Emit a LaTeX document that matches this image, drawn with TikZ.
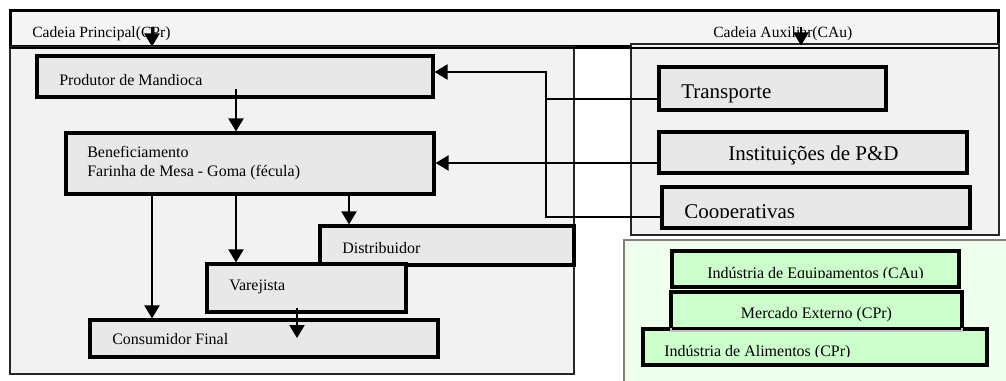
\documentclass[tikz,border=0pt]{standalone}
\usepackage{fontspec}
\setmainfont{Liberation Serif}
\usetikzlibrary{arrows.meta,fit}
\definecolor{boxgray}{HTML}{E8E8E8}
\definecolor{panelgray}{HTML}{F2F2F2}
\definecolor{hdrgray}{HTML}{F5F5F5}
\definecolor{greenbox}{HTML}{CCFFCC}
\definecolor{greenpanel}{HTML}{EEFFEE}
\begin{document}
\begin{tikzpicture}[x=0.75pt,y=-0.75pt,
  panel/.style={draw=black!85, line width=1.5pt, fill=panelgray, inner sep=0pt},
  stagebox/.style={draw=black, line width=2.4pt, fill=boxgray, inner sep=0pt},
  gbox/.style={draw=black, line width=2.4pt, fill=greenbox, inner sep=0pt},
  lbl/.style={anchor=base west, inner sep=0pt, font=\fontsize{12pt}{14pt}\selectfont},
  clbl/.style={anchor=base, inner sep=0pt, font=\fontsize{12pt}{14pt}\selectfont},
  biglbl/.style={anchor=base west, inner sep=0pt, font=\fontsize{15.75pt}{18pt}\selectfont},
  hdr/.style={anchor=base west, inner sep=0pt, font=\fontsize{11.7pt}{14pt}\selectfont},
  arr/.style={line width=1.5pt, -{Triangle[length=9.75pt,width=11.25pt]}},
  conn/.style={line width=1.5pt},
]
\useasboundingbox (0,0) rectangle (1006,381);
\fill[white] (0,0) rectangle (1006,381);

% green panel
\fill[greenpanel] (624,240) rectangle (1006,381);
\draw[gray, line width=0.9pt] (624,381) -- (624,240) -- (1006,240);
\coordinate (gp) at (624,240);

% header band
\node[panel, draw=black, line width=2.25pt, fill=hdrgray, fit={(10,11) (998,47)}] (hdr) {};
% main chain panel
\node[panel, fit={(10,47) (574,374)}] (cpr) {};
% auxiliary chain panel
\node[panel, fit={(631,44) (999,235)}] (cau) {};
\draw[line width=1.5pt] (hdr.south west) -- (hdr.south east);

\node[hdr] (tcpr) at (32,37.5) {Cadeia Principal(CPr)};
\node[hdr] (tcau) at (713,37.5) {Cadeia Auxiliar(CAu)};

% main chain boxes
\node[stagebox, fit={(37,56) (433,97)}] (prod) {};
\node[lbl] (tprod) at (59,86) {Produtor de Mandioca};
\node[stagebox, fit={(66,133) (434,194)}] (benef) {};
\node[lbl] (tben1) at (87,157) {Beneficiamento};
\node[lbl] (tben2) at (87,176.5) {Farinha de Mesa - Goma (fécula)};
\node[stagebox, fit={(320,226) (574,265)}] (dist) {};
\node[lbl] (tdist) at (342,253) {Distribuidor};
\node[stagebox, fit={(207,264) (406,312)}] (vare) {};
\node[lbl] (tvare) at (229,290) {Varejista};
\node[stagebox, fit={(90,320) (438,357)}] (cons) {};
\node[lbl] (tcons) at (112,344) {Consumidor Final};

% auxiliary boxes
\node[stagebox, fit={(659,67) (886,110)}] (transp) {};
\node[biglbl] (ttransp) at (681,99) {Transporte};
\node[stagebox, fit={(659,132) (967,173)}] (inst) {};
\node[biglbl] (tinst) at (728,161) {Instituições de P\&D};
\node[stagebox, fit={(662,187) (970,228)}] (coop) {};
\begin{scope}
  \clip (662,150) rectangle (970,217.5);
  \node[biglbl] (tcoop) at (684,218) {Cooperativas};
\end{scope}

% green boxes
\node[gbox, fit={(672,251) (959,287)}] (equip) {};
\begin{scope}
  \clip (672,240) rectangle (959,277.5);
  \node[clbl] (tequip) at (815.5,278) {Indústria de Equipamentos (CAu)};
\end{scope}
\node[gbox, fit={(671,292) (962,330)}] (merc) {};
\node[clbl] (tmerc) at (816.5,318) {Mercado Externo (CPr)};
\node[gbox, fit={(643,329) (987,365)}] (alim) {};
\draw[black!25, line width=1pt] (671,328) -- (671,331) -- (962,331) -- (962,328);
\begin{scope}
  \clip (643,320) rectangle (987,356);
  \node[lbl] (talim) at (664,356.5) {Indústria de Alimentos (CPr)};
\end{scope}

% coordinates for connector routing
\coordinate (x152) at (152,0);
\coordinate (x236) at (236,0);
\coordinate (x297) at (297,0);
\coordinate (x349) at (349,0);
\coordinate (x546) at (546,0);
\coordinate (y72) at (0,72);
\coordinate (y99) at (0,99);
\coordinate (y163) at (0,163);
\coordinate (y217) at (0,217);
\coordinate (ha) at (152,27);
\coordinate (hb) at (801,27);
\coordinate (hastop) at (152,46.5);
\coordinate (hbstop) at (801,45.5);
\coordinate (pstart) at (236,89);
\coordinate (vstart) at (297,308);
\coordinate (vend) at (297,338);

% header arrows
\draw[arr] (ha) -- (hastop);
\draw[arr] (hb) -- (hbstop);

% main chain flows
\draw[arr] (pstart) -- (benef.north -| x236);
\draw[arr] (benef.south -| x152) -- (cons.north -| x152);
\draw[arr] (benef.south -| x236) -- (vare.north -| x236);
\draw[arr] (benef.south -| x349) -- (dist.north -| x349);
\draw[arr] (vstart) -- (vend);

% auxiliary links
\draw[arr] (inst.west |- y163) -- (benef.east |- y163);
\draw[arr] (coop.west |- y217) -- (x546 |- y217) -- (x546 |- y72) -- (prod.east |- y72);
\draw[conn] (transp.west |- y99) -- (x546 |- y99);
\end{tikzpicture}
\end{document}
